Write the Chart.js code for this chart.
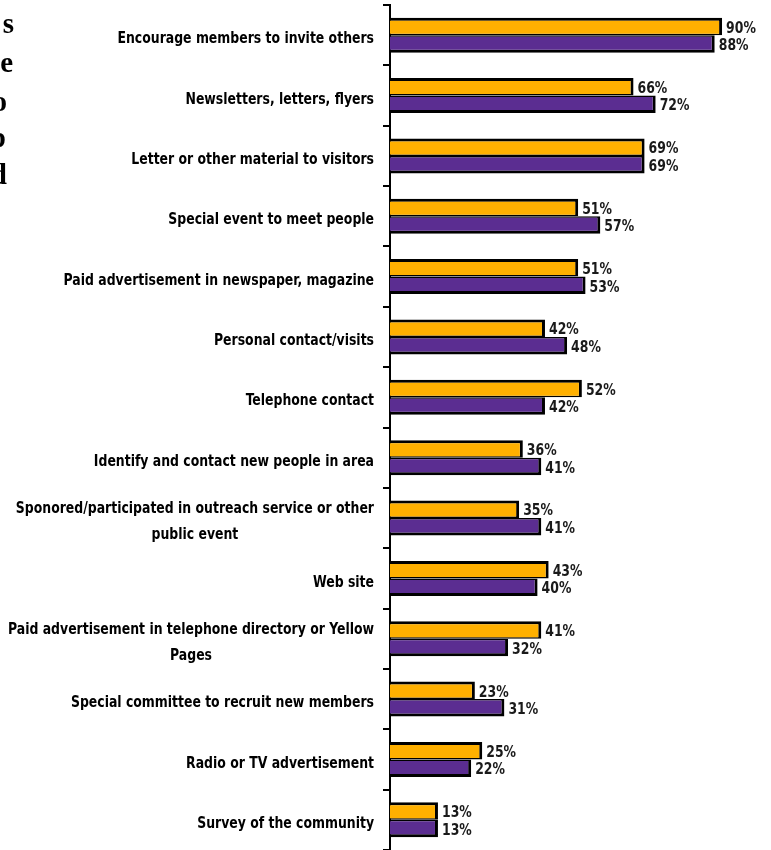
<!DOCTYPE html>
<html>
<head>
<meta charset="utf-8">
<script src="https://cdn.jsdelivr.net/npm/chart.js@4.4.1/dist/chart.umd.min.js"></script>
<style>
  html, body { margin: 0; padding: 0; background: #fff; }
  #wrap { width: 771px; height: 850px; position: relative; }
</style>
</head>
<body>
<div id="wrap"><canvas id="chart"></canvas></div>
<script>
// Categories (top to bottom)
const categories = [
  "Encourage members to invite others",
  "Newsletters, letters, flyers",
  "Letter or other material to visitors",
  "Special event to meet people",
  "Paid advertisement in newspaper, magazine",
  "Personal contact/visits",
  "Telephone contact",
  "Identify and contact new people in area",
  ["Sponored/participated in outreach service or other", "public event"],
  "Web site",
  ["Paid advertisement in telephone directory or Yellow", "Pages"],
  "Special committee to recruit new members",
  "Radio or TV advertisement",
  "Survey of the community"
];

// Series values (percent)
const orangeValues = [90, 66, 69, 51, 51, 42, 52, 36, 35, 43, 41, 23, 25, 13];
const purpleValues = [88, 72, 69, 57, 53, 48, 42, 41, 41, 40, 32, 31, 22, 13];

// Cropped title fragments at the left edge
const edgeLetters = ["s", "e", "o", "p", "d"];

const ORANGE = "#FFB000";
const PURPLE = "#5B2D91";
const LABEL_FONT = 'bold 16px "DejaVu Sans Condensed", "DejaVu Sans", sans-serif';
const SQUEEZE = 0.865; // the original font is a narrow one

// Draws category labels right-aligned, wrapped lines centred on each other
const categoryLabels = {
  id: "categoryLabels",
  afterDraw(chart) {
    const ctx = chart.ctx;
    const y = chart.scales.y;
    const rightEdge = y.right - 16;
    ctx.save();
    ctx.font = LABEL_FONT;
    ctx.fillStyle = "#000";
    ctx.textBaseline = "middle";
    ctx.textAlign = "center";
    categories.forEach((cat, i) => {
      const lines = Array.isArray(cat) ? cat : [cat];
      const maxW = Math.max(...lines.map((l) => ctx.measureText(l).width));
      const cy = y.getPixelForValue(i) + 4;
      lines.forEach((l, j) => {
        ctx.save();
        ctx.translate(rightEdge, cy + (j - (lines.length - 1) / 2) * 26);
        ctx.scale(SQUEEZE, 1);
        ctx.fillText(l, -maxW / 2, 0);
        ctx.restore();
      });
    });
    ctx.restore();
  }
};

// Value labels at the end of each bar
const valueLabels = {
  id: "valueLabels",
  afterDatasetsDraw(chart) {
    const ctx = chart.ctx;
    ctx.save();
    ctx.font = LABEL_FONT;
    ctx.fillStyle = "#1a1a1a";
    ctx.textAlign = "left";
    ctx.textBaseline = "middle";
    chart.data.datasets.forEach((ds, di) => {
      chart.getDatasetMeta(di).data.forEach((bar, i) => {
        ctx.save();
        ctx.translate(bar.x + 4, bar.y + 2);
        ctx.scale(SQUEEZE, 1);
        ctx.fillText(ds.data[i] + "%", 0, 0);
        ctx.restore();
      });
    });
    ctx.restore();
  }
};

// Left edge letters (title text cropped by the image edge)
const edgeText = {
  id: "edgeText",
  afterDraw(chart) {
    const ctx = chart.ctx;
    const xs = [14, 13, 7, 6, 7];
    const ys = [33, 72, 111, 147, 184];
    ctx.save();
    ctx.font = 'bold 29px "Liberation Serif", "DejaVu Serif", serif';
    ctx.fillStyle = "#000";
    ctx.textAlign = "right";
    ctx.textBaseline = "alphabetic";
    edgeLetters.forEach((t, i) => ctx.fillText(t, xs[i], ys[i]));
    ctx.restore();
  }
};

new Chart(document.getElementById("chart"), {
  type: "bar",
  data: {
    labels: categories,
    datasets: [
      {
        label: "Series 1",
        data: orangeValues,
        backgroundColor: ORANGE,
        borderColor: "#000",
        borderWidth: { top: 3, right: 3, bottom: 1.5, left: 0 },
        borderSkipped: false,
        categoryPercentage: 0.58,
        barPercentage: 1.0
      },
      {
        label: "Series 2",
        data: purpleValues,
        backgroundColor: PURPLE,
        borderColor: "#000",
        borderWidth: { top: 1.5, right: 3, bottom: 3, left: 0 },
        borderSkipped: false,
        categoryPercentage: 0.58,
        barPercentage: 1.0
      }
    ]
  },
  options: {
    indexAxis: "y",
    responsive: true,
    maintainAspectRatio: false,
    animation: false,
    layout: { padding: { left: 0, right: 12, top: 5, bottom: 0 } },
    plugins: {
      legend: { display: false },
      tooltip: { enabled: false }
    },
    scales: {
      x: {
        display: false,
        min: 0,
        max: 100
      },
      y: {
        ticks: { display: false },
        grid: {
          display: true,
          offset: true,
          drawOnChartArea: false,
          drawTicks: true,
          tickLength: 7,
          color: "#000",
          lineWidth: 2
        },
        border: { display: true, color: "#000", width: 2 },
        afterFit(scale) {
          scale.width = 390;
        }
      }
    }
  },
  plugins: [categoryLabels, valueLabels, edgeText]
});
</script>
</body>
</html>
